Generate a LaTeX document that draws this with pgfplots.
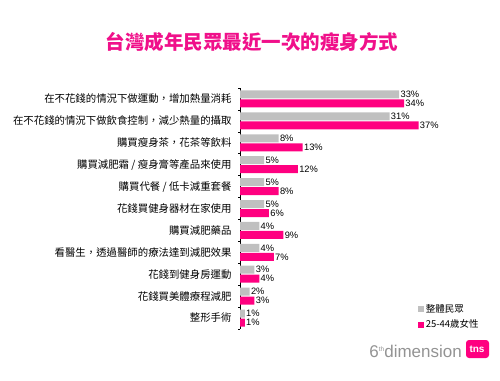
\documentclass[border=0pt]{standalone}
\usepackage{pgfplots}
\pgfplotsset{compat=1.18}
\usepackage{fontspec}
\setmainfont{Liberation Sans}
\newfontfamily\cjk{Noto Sans CJK TC}
\definecolor{pinkbar}{HTML}{FF0080}
\definecolor{graybar}{HTML}{C0C0C0}
\definecolor{titlepink}{HTML}{F0108A}
\begin{document}
\begin{tikzpicture}[x=1pt,y=1pt]
\path[use as bounding box] (0,0) rectangle (500,380);
\begin{axis}[
  at={(240pt,51pt)}, anchor=south west,
  scale only axis, width=193pt, height=241pt,
  xmin=0, xmax=40, ymin=-0.5, ymax=10.5,
  y dir=reverse,
  axis x line=none,
  axis y line*=left,
  axis line style={black, line width=0.6pt},
  xbar, bar width=8pt,
  ytick={0,...,10},
  yticklabels={
    在不花錢的情況下做運動，增加熱量消耗,
    在不花錢的情況下做飲食控制，減少熱量的攝取,
    購買瘦身茶，花茶等飲料,
    購買減肥霜 / 瘦身膏等產品來使用,
    購買代餐 / 低卡減重套餐,
    花錢買健身器材在家使用,
    購買減肥藥品,
    看醫生，透過醫師的療法達到減肥效果,
    花錢到健身房運動,
    花錢買美體療程減肥,
    整形手術},
  yticklabel style={font=\cjk\fontsize{10.4}{12}\selectfont, xshift=-5pt},
  major tick length=0pt,
  minor ytick={-0.5,0.5,...,10.5},
  minor tick length=2pt,
  tick align=outside,
  minor tick style={black, line width=0.5pt},
  /pgf/number format/assume math mode=true,
  nodes near coords={\pgfmathprintnumber{\pgfplotspointmeta}\%},
  nodes near coords align={horizontal},
  every node near coord/.append style={font=\fontsize{9.3}{10}\selectfont, black, inner sep=1.2pt},
  point meta=x,
  legend style={draw=none, fill=none, at={(0.92,0.05)}, anchor=west,
    font=\cjk\fontsize{9.5}{11}\selectfont, row sep=2pt, inner sep=0pt},
  legend cell align=left,
  legend image code/.code={\fill[#1] (0pt,-3pt) rectangle (6pt,3pt);},
]
\addplot[draw=none, fill=graybar, bar shift=4.5pt] coordinates {
  (33,0) (31,1) (8,2) (5,3) (5,4) (5,5) (4,6) (4,7) (3,8) (2,9) (1,10)};
\addplot[draw=none, fill=pinkbar, bar shift=-4.5pt] coordinates {
  (34,0) (37,1) (13,2) (12,3) (8,4) (6,5) (9,6) (7,7) (4,8) (3,9) (1,10)};
\legend{整體民眾, 25-44歲女性}
\end{axis}
\node[font=\cjk\bfseries\fontsize{19.5}{21}\selectfont, text=titlepink] at (252,338) {台灣成年民眾最近一次的瘦身方式};
\node[anchor=base east, text=gray!85, font=\fontsize{17}{18}\selectfont, inner sep=0pt] at (462,23) {6\raisebox{6pt}{\fontsize{6.5}{7}\selectfont th}dimension};
\fill[pinkbar, rounded corners=3pt] (466,22) rectangle (489,40);
\node[text=white, font=\bfseries\fontsize{10}{11}\selectfont] at (477,31) {tns};
\end{tikzpicture}
\end{document}
